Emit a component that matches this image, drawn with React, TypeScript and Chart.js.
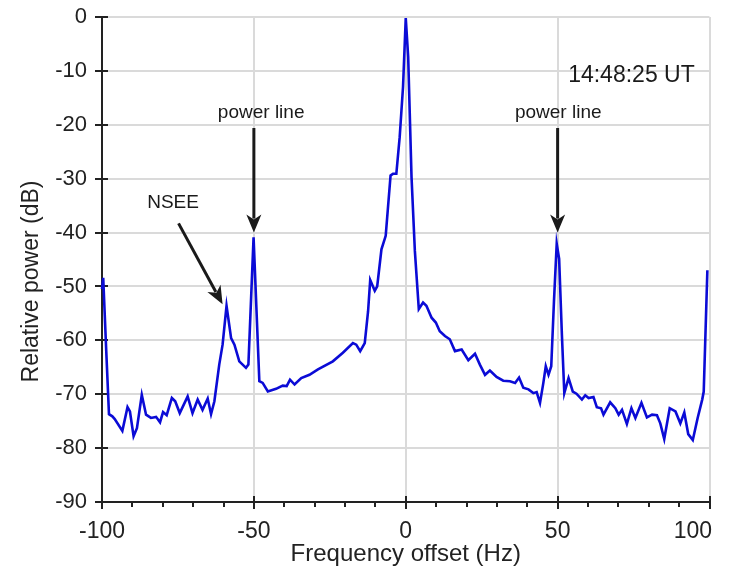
import React, { useEffect, useRef } from 'react';
import { Chart, registerables } from 'chart.js';

Chart.register(...registerables);

// Spectrum trace: frequency offset (Hz) and relative power (dB)
const freqHz = [
  -100, -99.6, -98.6, -97.7, -96.6, -95.8, -93.3, -91.6, -90.8, -89.6, -88.5, -86.9, -85.5,
  -83.9, -82.2, -80.9, -79.9, -78.7, -77.0, -75.9, -74.4, -71.8, -70.2, -68.5, -66.9, -65.2,
  -64.1, -63.0, -61.4, -60.3, -59.0, -57.5, -56.4, -54.8, -52.6, -51.8, -50.1, -48.2, -47.1,
  -45.4, -42.7, -40.5, -39.2, -38.1, -36.6, -34.4, -31.7, -28.9, -24.0, -20.7, -17.4, -16.3,
  -15.0, -13.5, -12.4, -11.7, -10.2, -9.4, -8.0, -6.6, -5.0, -4.2, -3.1, -2.0, -0.9, 0.0,
  0.8, 1.9, 3.0, 4.3, 5.7, 6.8, 8.5, 9.9, 11.2, 12.9, 14.5, 16.2, 18.4, 20.6, 22.8, 24.4,
  26.1, 27.7, 29.9, 32.1, 34.3, 36.0, 37.3, 38.7, 40.4, 42.0, 43.1, 44.2, 45.3, 46.1, 47.0,
  47.9, 48.8, 49.7, 50.5, 51.4, 52.2, 53.6, 55.0, 56.2, 58.0, 59.1, 60.2, 61.8, 62.9, 64.3,
  65.1, 67.3, 69.0, 70.1, 71.2, 72.8, 74.3, 75.6, 77.6, 79.4, 81.1, 82.7, 83.8, 85.1, 86.9,
  88.8, 90.4, 91.7, 93.0, 94.5, 96.1, 97.6, 98.1, 99.3,
];
const powerDb = [
  -50.5, -48.4, -62.0, -73.7, -74.1, -74.6, -76.8, -72.4, -73.2, -77.8, -76.3, -70.1, -73.8,
  -74.4, -74.2, -75.2, -73.3, -73.9, -70.7, -71.3, -73.5, -70.4, -73.5, -71.0, -72.9, -70.8,
  -73.7, -71.3, -64.5, -60.8, -53.6, -59.6, -60.8, -63.9, -65.1, -64.5, -40.9, -67.6, -67.9,
  -69.5, -69.0, -68.4, -68.5, -67.3, -68.2, -67.0, -66.4, -65.4, -63.9, -62.3, -60.5, -60.8,
  -62.0, -60.5, -54.6, -48.8, -50.8, -50.0, -43.1, -40.6, -29.4, -29.1, -29.1, -22.3, -13.0, -0.2,
  -7.4, -29.7, -43.4, -54.2, -53.0, -53.6, -55.8, -56.7, -58.3, -59.2, -59.8, -62.0, -61.7,
  -63.7, -62.5, -64.5, -66.4, -65.6, -66.8, -67.5, -67.6, -67.9, -66.9, -68.8, -69.1, -69.8,
  -69.6, -71.6, -67.9, -64.8, -66.4, -64.8, -52.7, -42.1, -44.9, -58.9, -69.8, -67.0, -69.5,
  -69.9, -71.0, -70.2, -70.7, -70.5, -72.4, -72.6, -73.8, -71.5, -72.6, -73.8, -72.9, -75.5,
  -72.6, -74.4, -71.6, -74.3, -73.8, -73.9, -75.4, -78.3, -72.6, -73.2, -75.4, -73.4, -77.4,
  -78.5, -74.4, -71.0, -69.5, -47.0,
];

// Axes
const xMin = -100;
const xMax = 100;
const xStep = 50;
const xMinorStep = 10;
const yMin = -90;
const yMax = 0;
const yStep = 10;
const xTitle = 'Frequency offset (Hz)';
const yTitle = 'Relative power (dB)';

// Annotations (data coordinates)
const noteTexts = ['power line', 'power line', 'NSEE'];
const noteX = [-47.6, 50.2, -76.6];
const noteY = [-17.8, -17.8, -34.4];
const arrowFromX = [-50, 50, -74.8];
const arrowFromY = [-20.6, -20.6, -38.3];
const arrowToX = [-50, 50, -60.3];
const arrowToY = [-40.0, -40.0, -53.3];
const stampText = '14:48:25 UT';
const stampX = 74.3;
const stampY = -10.9;

const FONT = '"Liberation Sans", Arial, Helvetica, sans-serif';
const INK = '#1a1a1a';
const TEXT = '#222';

const decorPlugin = {
  id: 'decor',
  beforeDatasetsDraw(chart: any) {
    const { ctx, chartArea, scales, width } = chart;
    const xs = scales.x;
    const ys = scales.y;
    ctx.save();
    ctx.strokeStyle = '#222';
    ctx.lineWidth = 2;
    // y ticks crossing the axis
    for (let v = yMin; v <= yMax; v += yStep) {
      const py = Math.round(ys.getPixelForValue(v));
      ctx.beginPath();
      ctx.moveTo(chartArea.left - 7, py);
      ctx.lineTo(chartArea.left + 6, py);
      ctx.stroke();
    }
    // x major ticks
    for (let v = xMin; v <= xMax; v += xStep) {
      const px = Math.round(xs.getPixelForValue(v));
      ctx.beginPath();
      ctx.moveTo(px, chartArea.bottom - 6);
      ctx.lineTo(px, chartArea.bottom + 7);
      ctx.stroke();
    }
    // x minor ticks
    for (let v = xMin; v <= xMax; v += xMinorStep) {
      const px = Math.round(xs.getPixelForValue(v));
      ctx.beginPath();
      ctx.moveTo(px, chartArea.bottom);
      ctx.lineTo(px, chartArea.bottom + 5);
      ctx.stroke();
    }
    // x tick labels (last one kept inside the figure)
    ctx.fillStyle = TEXT;
    ctx.font = `23px ${FONT}`;
    ctx.textAlign = 'center';
    ctx.textBaseline = 'middle';
    const rightLimit = width - 17;
    xs.ticks.forEach((t: any) => {
      const label = String(t.value);
      let px = xs.getPixelForValue(t.value);
      const half = ctx.measureText(label).width / 2;
      if (px + half > rightLimit) px = rightLimit - half;
      ctx.fillText(label, px, chartArea.bottom + 30);
    });
    ctx.restore();
  },
  afterDraw(chart: any) {
    const { ctx, chartArea, scales } = chart;
    const xs = scales.x;
    const ys = scales.y;
    ctx.save();
    // y axis title
    ctx.fillStyle = TEXT;
    ctx.font = `23px ${FONT}`;
    ctx.textAlign = 'center';
    ctx.textBaseline = 'middle';
    ctx.translate(32, (chartArea.top + chartArea.bottom) / 2 + 22);
    ctx.rotate(-Math.PI / 2);
    ctx.fillText(yTitle, 0, 0);
    ctx.restore();

    ctx.save();
    ctx.fillStyle = INK;
    ctx.strokeStyle = INK;
    ctx.textAlign = 'center';
    ctx.textBaseline = 'middle';
    for (let i = 0; i < noteTexts.length; i++) {
      ctx.font = `19px ${FONT}`;
      ctx.fillText(noteTexts[i], xs.getPixelForValue(noteX[i]), ys.getPixelForValue(noteY[i]));
      const x0 = xs.getPixelForValue(arrowFromX[i]);
      const y0 = ys.getPixelForValue(arrowFromY[i]);
      const x1 = xs.getPixelForValue(arrowToX[i]);
      const y1 = ys.getPixelForValue(arrowToY[i]);
      const ang = Math.atan2(y1 - y0, x1 - x0);
      const headLen = 18;
      const headHalf = 7.5;
      const bx = x1 - headLen * Math.cos(ang);
      const by = y1 - headLen * Math.sin(ang);
      ctx.lineWidth = 3;
      ctx.beginPath();
      ctx.moveTo(x0, y0);
      ctx.lineTo(bx + 4 * Math.cos(ang), by + 4 * Math.sin(ang));
      ctx.stroke();
      ctx.beginPath();
      ctx.moveTo(x1, y1);
      ctx.lineTo(bx - headHalf * Math.sin(ang), by + headHalf * Math.cos(ang));
      ctx.lineTo(bx + 5 * Math.cos(ang), by + 5 * Math.sin(ang));
      ctx.lineTo(bx + headHalf * Math.sin(ang), by - headHalf * Math.cos(ang));
      ctx.closePath();
      ctx.fill();
    }
    ctx.font = `23px ${FONT}`;
    ctx.fillText(stampText, xs.getPixelForValue(stampX), ys.getPixelForValue(stampY));
    ctx.restore();
  },
};

export default function App() {
  const canvasRef = useRef<HTMLCanvasElement | null>(null);

  useEffect(() => {
    const canvas = canvasRef.current;
    if (!canvas) return;
    const points = freqHz.map((f, i) => ({ x: f, y: powerDb[i] }));
    const chart = new Chart(canvas, {
      type: 'line',
      data: {
        datasets: [
          {
            data: points,
            borderColor: '#0b0bd6',
            borderWidth: 2.6,
            pointRadius: 0,
            tension: 0,
            fill: false,
            clip: 6,
          },
        ],
      },
      options: {
        animation: false,
        responsive: false,
        devicePixelRatio: 1,
        events: [],
        layout: { padding: { top: 17, right: 19.5, left: 0, bottom: 0 } },
        plugins: {
          legend: { display: false },
          tooltip: { enabled: false },
          title: { display: false },
        },
        scales: {
          x: {
            type: 'linear',
            min: xMin,
            max: xMax,
            afterFit: (s: any) => {
              s.height = 72;
              s.paddingLeft = 0;
              s.paddingRight = 0;
            },
            ticks: {
              stepSize: xStep,
              display: false,
              maxRotation: 0,
            },
            grid: { color: '#dadada', lineWidth: 2, drawTicks: false },
            border: { display: true, color: '#222', width: 2 },
            title: {
              display: true,
              text: xTitle,
              color: TEXT,
              font: { family: FONT, size: 24 },
              padding: { top: 0, bottom: 5 },
            },
          },
          y: {
            type: 'linear',
            min: yMin,
            max: yMax,
            afterFit: (s: any) => {
              s.width = 102;
              s.paddingTop = 0;
              s.paddingBottom = 0;
            },
            ticks: {
              stepSize: yStep,
              padding: 15,
              color: TEXT,
              font: { family: FONT, size: 22 },
            },
            grid: { color: '#dadada', lineWidth: 2, drawTicks: false },
            border: { display: true, color: '#222', width: 2 },
          },
        },
      },
      plugins: [decorPlugin],
    });
    return () => chart.destroy();
  }, []);

  return (
    <div style={{ position: 'fixed', left: 0, top: 0, width: 729, height: 574, background: '#fff' }}>
      <canvas ref={canvasRef} width={729} height={574} style={{ display: 'block' }} />
    </div>
  );
}
